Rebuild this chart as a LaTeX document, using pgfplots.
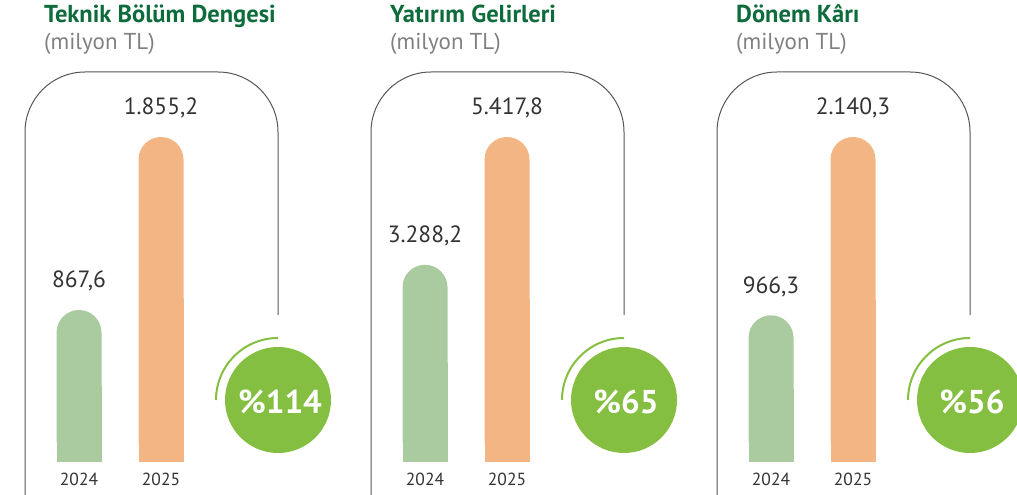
\documentclass[border=0pt]{standalone}
\usepackage{pgfplots}
\usepackage{pgfplotstable}
\pgfplotsset{compat=1.18}
\usepackage{fontspec}
\setmainfont{PT Sans}
\definecolor{barg}{HTML}{A9CB9F}
\definecolor{baro}{HTML}{F3B584}
\definecolor{circ}{HTML}{84BF41}
\definecolor{ttl}{HTML}{0E6B3B}
\definecolor{sub}{HTML}{808080}
\definecolor{txt}{HTML}{333333}
\definecolor{frm}{HTML}{555555}
\pgfplotstableread{
x v
0 867.6
1 1855.2
}\tA
\pgfplotstableread{
x v
0 3288.2
1 5417.8
}\tB
\pgfplotstableread{
x v
0 966.3
1 2140.3
}\tC
\pgfplotsset{
  panel/.style={
    scale only axis, width=164pt, height=325pt,
    xmin=-0.5, xmax=1.5, ymin=0,
    axis line style={draw=none}, major tick length=0pt,
    ytick=\empty, xtick={0,1}, xticklabels={2024,2025},
    xticklabel style={font=\fontsize{17.5}{17.5}\selectfont, text=txt, yshift=-8pt},
    clip=false, anchor=south west,
    ybar, bar width=45pt, bar shift=0pt,
    every axis plot/.append style={draw=none},
    every node near coord/.append style={font=\fontsize{23.5}{23.5}\selectfont, text=txt, anchor=south, yshift=15pt},
    /pgf/number format/.cd, use comma, 1000 sep={.}, fixed, fixed zerofill, precision=1, assume math mode=true,
  },
  fullbar/.style={rounded corners=22.5pt, nodes near coords},
  g/.style={fill=barg, restrict x to domain=-0.1:0.1},
  o/.style={fill=baro, restrict x to domain=0.9:1.1},
}
\newcommand\bars[1]{%
  \addplot[g] table[x=x, y expr=\thisrow{v}/2] {#1};
  \addplot[o] table[x=x, y expr=\thisrow{v}/2] {#1};
  \addplot[g, fullbar] table[x=x, y=v] {#1};
  \addplot[o, fullbar] table[x=x, y=v] {#1};
}
\begin{document}
\begin{tikzpicture}
\path[use as bounding box] (0,0) rectangle (1017pt,495pt);
\foreach \dx/\t/\p in {0/Teknik Bölüm Dengesi/114, 346/Yatırım Gelirleri/65, 692/Dönem Kârı/56}{
  \draw[frm, line width=1pt, rounded corners=60pt] (25pt+\dx pt,0pt) -- (25pt+\dx pt,423pt) -- (278pt+\dx pt,423pt) -- (278pt+\dx pt,180pt);
  \fill[circ] (278pt+\dx pt,95pt) circle[radius=53pt];
  \draw[circ, line width=2pt] (278pt+\dx pt,157pt) arc[start angle=90, end angle=180, radius=62pt];
  \node[text=white, font=\bfseries\fontsize{33}{33}\selectfont] at (280pt+\dx pt,93pt) {\%\p};
  \node[anchor=base west, inner sep=0pt, text=ttl, font=\bfseries\fontsize{24.5}{24.5}\selectfont] at (44pt+\dx pt,472pt) {\t};
  \node[anchor=base west, inner sep=0pt, text=sub, font=\fontsize{23}{23}\selectfont] at (44pt+\dx pt,445pt) {(milyon TL)};
}
\begin{axis}[panel, at={(38pt,33pt)}, ymax=1855.2]
\bars{\tA}
\end{axis}
\begin{axis}[panel, at={(384pt,33pt)}, ymax=5417.8]
\bars{\tB}
\end{axis}
\begin{axis}[panel, at={(730pt,33pt)}, ymax=2140.3]
\bars{\tC}
\end{axis}
\end{tikzpicture}
\end{document}
